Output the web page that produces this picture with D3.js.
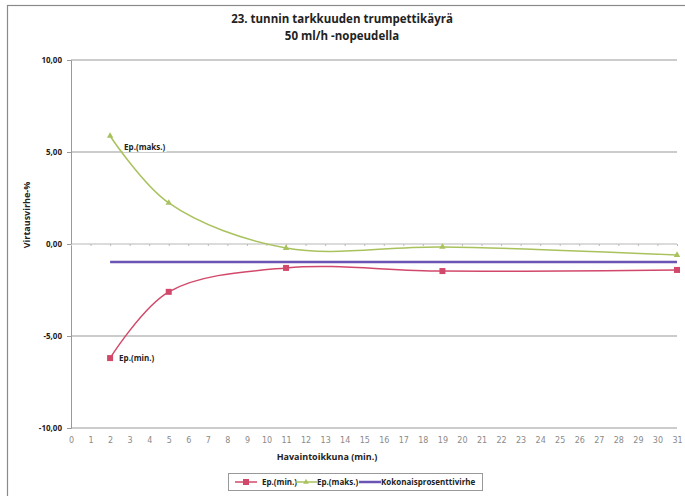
<!DOCTYPE html>
<html><head><meta charset="utf-8">
<script src="https://cdn.jsdelivr.net/npm/d3@7"></script>
<style>body{margin:0;background:#fff}svg{display:block;font-family:"Open Sans","Liberation Sans",sans-serif}</style>
</head><body><svg id="c" width="685" height="496"></svg>
<script>
const xTicks = d3.range(0, 32);
const yTicks = [10, 5, 0, -5, -10];
const windows = [2, 5, 11, 19, 31];
const epMin = [-6.2, -2.6, -1.3, -1.47, -1.41];
const epMaks = [5.87, 2.23, -0.22, -0.16, -0.6];
const totalX = [2, 31];
const totalErr = [-0.98, -0.98];
const seriesNames = ["Ep.(min.)", "Ep.(maks.)", "Kokonaisprosenttivirhe"];
const colors = ["#d2486a", "#a9c25e", "#6a55b4"];

const svg = d3.select("#c");
const m = {l: 71, r: 677, t: 60, b: 428};
const x = d3.scaleLinear().domain([0, 31]).range([m.l, m.r]);
const y = d3.scaleLinear().domain([-10, 10]).range([m.b, m.t]);
const fi = d3.formatLocale({decimal: ",", thousands: " ", grouping: [3], currency: ["", "€"], minus: "-"});

// outer frame
svg.append("rect").attr("x", 7.5).attr("y", 5.5).attr("width", 700).attr("height", 500)
  .attr("fill", "none").attr("stroke", "#8a8a8a").attr("stroke-width", 1.2);

// title
svg.append("text").attr("x", 342).attr("y", 23).attr("text-anchor", "middle")
  .attr("font-size", 11.5).attr("font-weight", "bold").attr("fill", "#222").text("23. tunnin tarkkuuden trumpettikäyrä");
svg.append("text").attr("x", 342).attr("y", 40).attr("text-anchor", "middle")
  .attr("font-size", 11.5).attr("font-weight", "bold").attr("fill", "#222").text("50 ml/h -nopeudella");

// gridlines
svg.append("g").selectAll("line").data(yTicks).join("line")
  .attr("x1", m.l).attr("x2", m.r).attr("y1", d => y(d)).attr("y2", d => y(d))
  .attr("stroke", d => d === 0 ? "#b8b8b8" : "#999").attr("stroke-width", 1.2);

// y axis
const yAxis = d3.axisLeft(y).tickValues(yTicks).tickSize(4).tickFormat(fi.format(".2f"));
const gy = svg.append("g").attr("transform", `translate(${m.l},0)`).call(yAxis);
gy.select(".domain").attr("stroke", "#999");
gy.selectAll(".tick line").attr("stroke", "#999");
gy.selectAll(".tick text").attr("font-size", 8).attr("font-weight", "bold").attr("fill", "#222")
  .attr("x", -9).attr("font-family", "Open Sans, sans-serif");

// x axis on zero line with ticks
const xAxis0 = d3.axisBottom(x).tickValues(xTicks).tickSize(2).tickFormat("");
const gx0 = svg.append("g").attr("transform", `translate(0,${y(0)})`).call(xAxis0);
gx0.select(".domain").remove();
gx0.selectAll(".tick line").attr("stroke", "#bbb");

// x tick labels at bottom
const xAxis = d3.axisBottom(x).tickValues(xTicks).tickSize(0).tickPadding(9);
const gx = svg.append("g").attr("transform", `translate(0,${m.b})`).call(xAxis);
gx.select(".domain").remove();
gx.selectAll(".tick text").attr("font-size", 8).attr("fill", "#8a8a8a").attr("font-family", "DejaVu Sans, sans-serif");

// axis titles
svg.append("text").attr("transform", "translate(30,215) rotate(-90)").attr("text-anchor", "middle")
  .attr("font-size", 9).attr("font-weight", "bold").attr("fill", "#222").text("Virtausvirhe-%");
svg.append("text").attr("x", 327).attr("y", 460).attr("text-anchor", "middle")
  .attr("font-size", 9).attr("font-weight", "bold").attr("fill", "#222").text("Havaintoikkuna (min.)");

const line = d3.line().x(d => x(d[0])).y(d => y(d[1])).curve(d3.curveCatmullRom.alpha(0.5));

// total error
const totData = totalX.map((v, i) => [v, totalErr[i]]);
svg.append("path").attr("d", d3.line().x(d => x(d[0])).y(d => y(d[1]))(totData))
  .attr("fill", "none").attr("stroke", colors[2]).attr("stroke-width", 2.5);

// maks
const maksData = windows.map((v, i) => [v, epMaks[i]]);
svg.append("path").attr("d", line(maksData)).attr("fill", "none").attr("stroke", colors[1]).attr("stroke-width", 1.5);
svg.append("g").selectAll("path").data(maksData).join("path")
  .attr("d", d3.symbol(d3.symbolTriangle, 18)())
  .attr("transform", d => `translate(${x(d[0])},${y(d[1])})`).attr("fill", colors[1]);

// min
const minData = windows.map((v, i) => [v, epMin[i]]);
svg.append("path").attr("d", line(minData)).attr("fill", "none").attr("stroke", colors[0]).attr("stroke-width", 1.5);
svg.append("g").selectAll("rect").data(minData).join("rect")
  .attr("x", d => x(d[0]) - 3).attr("y", d => y(d[1]) - 3).attr("width", 6).attr("height", 6).attr("fill", colors[0]);

// data labels
const lbl1 = svg.append("text").attr("x", x(windows[0]) + 14).attr("y", y(epMaks[0]) + 14)
  .attr("font-size", 8).attr("font-weight", "bold").attr("fill", "#222").text(seriesNames[1]);
const bb = lbl1.node().getBBox();
svg.insert("rect", () => lbl1.node()).attr("x", bb.x - 1).attr("y", bb.y).attr("width", bb.width + 2).attr("height", bb.height).attr("fill", "#fff");
svg.append("text").attr("x", x(windows[0]) + 9).attr("y", y(epMin[0]) + 3)
  .attr("font-size", 8).attr("font-weight", "bold").attr("fill", "#222").text(seriesNames[0]);

// legend
const lg = svg.append("g");
lg.append("rect").attr("x", 228.5).attr("y", 473.5).attr("width", 254).attr("height", 17)
  .attr("fill", "#fff").attr("stroke", "#999");
const lx = [235, 295, 359];
const tx = [262, 317, 381];
seriesNames.forEach((n, i) => {
  lg.append("line").attr("x1", lx[i]).attr("x2", lx[i] + 22).attr("y1", 482).attr("y2", 482)
    .attr("stroke", colors[i]).attr("stroke-width", i === 2 ? 2.5 : 1.5);
  if (i === 0) lg.append("rect").attr("x", lx[i] + 8).attr("y", 479).attr("width", 6).attr("height", 6).attr("fill", colors[0]);
  if (i === 1) lg.append("path").attr("d", d3.symbol(d3.symbolTriangle, 14)()).attr("transform", `translate(${lx[i] + 11},482)`).attr("fill", colors[1]);
  lg.append("text").attr("x", tx[i]).attr("y", 485).attr("font-size", 8).attr("font-weight", "bold").attr("fill", "#222").text(n);
});
</script></body></html>
